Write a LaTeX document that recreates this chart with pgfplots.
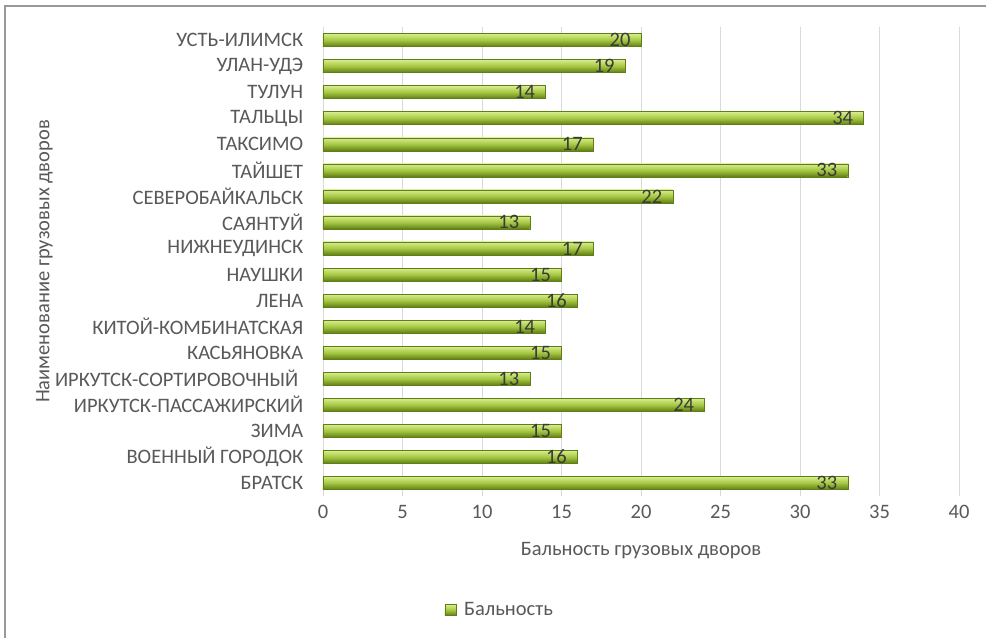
\documentclass[border=0pt]{standalone}
\usepackage{pgfplots}
\pgfplotsset{compat=1.18}
\usepackage{fontspec}
\setmainfont{Carlito}
\definecolor{txt}{HTML}{595959}
\definecolor{lbl}{HTML}{3A3A3A}
\definecolor{gtop}{HTML}{D8EE90}
\definecolor{gmid}{HTML}{A6C742}
\definecolor{gbot}{HTML}{5F7E16}
\definecolor{gridc}{HTML}{D9D9D9}
\pgfplotsset{gbar/.style={draw=gbot, line width=0.4pt, top color=gtop, bottom color=gbot, middle color=gmid, bar shift=0pt}}
\begin{document}
\begin{tikzpicture}
\useasboundingbox (0,0) rectangle (986pt,638pt);
\fill[white] (0,0) rectangle (986pt,638pt);
\draw[color=black!40, line width=1.5pt] (5pt,0) -- (5pt,632pt) -- (986pt,632pt);
\begin{axis}[
  at={(323pt,142pt)}, anchor=south west,
  scale only axis, width=636pt, height=469pt,
  xbar, bar width=13pt,
  xmin=0, xmax=40, ymin=-0.5, ymax=17.5,
  xtick={0,5,...,40},
  ytick={0,...,17},
  yticklabels={БРАТСК, ВОЕННЫЙ ГОРОДОК, ЗИМА, ИРКУТСК-ПАССАЖИРСКИЙ, {ИРКУТСК-СОРТИРОВОЧНЫЙ\hspace*{5pt}}, КАСЬЯНОВКА, КИТОЙ-КОМБИНАТСКАЯ, ЛЕНА, НАУШКИ, НИЖНЕУДИНСК, САЯНТУЙ, СЕВЕРОБАЙКАЛЬСК, ТАЙШЕТ, ТАКСИМО, ТАЛЬЦЫ, ТУЛУН, УЛАН-УДЭ, УСТЬ-ИЛИМСК},
  axis line style={draw=none},
  tick style={draw=none},
  xmajorgrids, major grid style={gridc, line width=0.9pt},
  /pgf/number format/assume math mode=true,
  tick label style={text=txt, font=\fontsize{20.5}{24}\selectfont},
  xticklabel style={yshift=-6pt},
  yticklabel style={xshift=-12pt},
  xlabel={Бальность грузовых дворов},
  ylabel={Наименование грузовых дворов},
  label style={text=txt, font=\fontsize{20.5}{24}\selectfont},
  xlabel style={at={(axis description cs:0.5,-0.117)}, anchor=center},
  ylabel style={at={(axis description cs:-0.438,0.5)}, anchor=center, rotate=0},
  nodes near coords,
  nodes near coords align={anchor=east},
  every node near coord/.append style={text=lbl, xshift=-7pt, font=\fontsize{20.5}{24}\selectfont},
  legend style={at={(axis description cs:0.278,-0.243)}, anchor=center, draw=none, fill=none, text=txt, font=\fontsize{20.5}{24}\selectfont, /tikz/every odd column/.append style={column sep=6pt}},
  legend image code/.code={\draw[#1] (0pt,-5.5pt) rectangle (11pt,5.5pt);},
]
\addplot[gbar] coordinates {(33,0)};
\addlegendentry{Бальность}
\addplot[gbar, forget plot] coordinates {(16,1)};
\addplot[gbar, forget plot] coordinates {(15,2)};
\addplot[gbar, forget plot] coordinates {(24,3)};
\addplot[gbar, forget plot] coordinates {(13,4)};
\addplot[gbar, forget plot] coordinates {(15,5)};
\addplot[gbar, forget plot] coordinates {(14,6)};
\addplot[gbar, forget plot] coordinates {(16,7)};
\addplot[gbar, forget plot] coordinates {(15,8)};
\addplot[gbar, forget plot] coordinates {(17,9)};
\addplot[gbar, forget plot] coordinates {(13,10)};
\addplot[gbar, forget plot] coordinates {(22,11)};
\addplot[gbar, forget plot] coordinates {(33,12)};
\addplot[gbar, forget plot] coordinates {(17,13)};
\addplot[gbar, forget plot] coordinates {(34,14)};
\addplot[gbar, forget plot] coordinates {(14,15)};
\addplot[gbar, forget plot] coordinates {(19,16)};
\addplot[gbar, forget plot] coordinates {(20,17)};
\end{axis}
\end{tikzpicture}
\end{document}
